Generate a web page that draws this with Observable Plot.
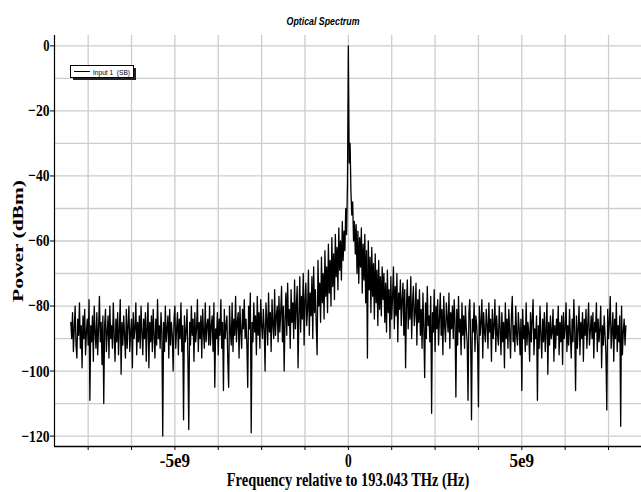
<!DOCTYPE html>
<html>
<head>
<meta charset="utf-8">
<script src="https://cdn.jsdelivr.net/npm/d3@7"></script>
<script src="https://cdn.jsdelivr.net/npm/@observablehq/plot@0.6"></script>
<style>
  body { margin: 0; background: #fff; }
  #wrap { position: relative; width: 641px; height: 492px; }
</style>
</head>
<body>
<div id="wrap"></div>
<script>
// Frequency grid of the analyser (Hz): first bin and bin spacing
const freqStartHz = -8e9;
const freqStepHz = 2.5e7;

// Power (dBm), 40 bins per 1 GHz
const powerDbm = [
  // -8.000 .. -7.025 GHz
  -85, -90, -82, -94, -87, -80, -92, -96, -84, -89,
  -79, -93, -86, -99, -83, -90, -81, -95, -88, -84,
  -92, -78, -109, -86, -91, -83, -97, -80, -88, -93,
  -82, -95, -87, -77, -91, -85, -98, -83, -110, -86,
  // -7.000 .. -6.025
  -81, -94, -88, -83, -96, -80, -90, -86, -93, -79,
  -89, -97, -84, -91, -82, -95, -87, -78, -101, -85,
  -92, -83, -89, -96, -81, -93, -86, -80, -94, -88,
  -84, -99, -82, -90, -87, -79, -95, -85, -91, -83,
  // -6.000 .. -5.025
  -93, -80, -88, -95, -84, -90, -82, -97, -86, -79,
  -99, -85, -91, -83, -94, -81, -89, -96, -84, -92,
  -78, -90, -86, -93, -82, -88, -120, -85, -94, -80,
  -91, -87, -83, -96, -81, -92, -85, -89, -100, -84,
  // -5.000 .. -4.025
  -80, -93, -87, -82, -95, -84, -90, -79, -94, -86,
  -115, -83, -91, -88, -81, -96, -118, -85, -92, -80,
  -89, -84, -97, -82, -91, -87, -78, -94, -85, -90,
  -83, -96, -81, -88, -93, -79, -91, -86, -84, -92,
  // -4.000 .. -3.025
  -80, -92, -86, -83, -94, -79, -105, -87, -90, -82,
  -95, -84, -89, -78, -93, -85, -106, -81, -90, -86,
  -83, -97, -105, -80, -88, -92, -79, -94, -84, -89,
  -77, -91, -85, -82, -96, -80, -88, -93, -81, -87,
  // -3.000 .. -2.025
  -78, -90, -84, -92, -105, -80, -87, -76, -119, -85,
  -91, -79, -88, -83, -95, -77, -89, -82, -93, -78,
  -86, -90, -81, -87, -100, -79, -84, -92, -76, -88,
  -82, -94, -78, -86, -90, -75, -89, -83, -80, -91,
  // -2.000 .. -1.025
  -77, -88, -82, -74, -91, -80, -100, -84, -76, -89,
  -73, -86, -81, -93, -75, -85, -79, -90, -72, -87,
  -80, -74, -99, -83, -71, -88, -77, -84, -70, -92,
  -78, -73, -86, -81, -69, -89, -76, -83, -71, -90,
  // -1.000 .. -0.025
  -68, -82, -75, -86, -95, -66, -80, -73, -85, -65,
  -79, -70, -84, -63, -77, -68, -82, -61, -76, -66,
  -80, -59, -74, -64, -78, -58, -71, -62, -75, -56,
  -69, -60, -72, -54, -66, -57, -63, -50, -58, -42,
  // 0.000 (carrier)
  0,
  // 0.025 .. 1.000
  -36, -30, -45, -52, -48, -60, -54, -64, -55, -70,
  -57, -73, -59, -68, -56, -76, -61, -72, -58, -79,
  -63, -96, -60, -75, -65, -82, -62, -77, -67, -84,
  -64, -79, -69, -86, -66, -81, -71, -83, -68, -78,
  // 1.025 .. 2.000
  -70, -85, -73, -88, -69, -82, -75, -90, -71, -84,
  -77, -68, -87, -74, -83, -70, -91, -76, -81, -72,
  -86, -78, -73, -89, -75, -99, -80, -72, -87, -77,
  -84, -71, -90, -79, -74, -86, -82, -73, -92, -78,
  // 2.025 .. 3.000
  -85, -75, -89, -81, -93, -76, -87, -102, -79, -90,
  -74, -86, -83, -91, -77, -113, -82, -88, -75, -94,
  -80, -87, -78, -92, -84, -76, -89, -81, -95, -77,
  -86, -91, -79, -84, -88, -76, -93, -82, -87, -80,
  // 3.025 .. 4.000
  -90, -78, -85, -108, -81, -92, -77, -88, -84, -95,
  -79, -89, -83, -93, -80, -87, -91, -109, -82, -78,
  -90, -115, -84, -88, -79, -94, -83, -86, -92, -111,
  -80, -89, -85, -78, -96, -82, -88, -91, -81, -86,
  // 4.025 .. 5.000
  -93, -79, -88, -84, -97, -81, -90, -86, -78, -94,
  -83, -89, -92, -80, -87, -95, -82, -91, -85, -99,
  -79, -90, -84, -93, -81, -88, -96, -83, -77, -91,
  -86, -94, -80, -89, -92, -82, -87, -95, -84, -106,
  // 5.025 .. 6.000
  -81, -90, -86, -94, -79, -92, -85, -88, -97, -82,
  -91, -84, -78, -95, -87, -90, -83, -109, -86, -93,
  -80, -89, -96, -84, -91, -82, -94, -87, -79, -101,
  -85, -92, -83, -90, -88, -81, -97, -86, -93, -84,
  // 6.025 .. 7.000
  -89, -80, -95, -85, -91, -83, -98, -82, -90, -87,
  -79, -94, -86, -92, -81, -89, -96, -84, -91, -78,
  -88, -106, -83, -93, -87, -80, -95, -85, -90, -82,
  -97, -84, -89, -81, -93, -86, -79, -92, -88, -83,
  // 7.025 .. 8.000
  -90, -82, -96, -85, -88, -79, -94, -84, -91, -87,
  -80, -99, -86, -92, -83, -89, -95, -112, -81, -90,
  -85, -77, -93, -88, -82, -97, -84, -90, -79, -94,
  -86, -91, -83, -117, -80, -95, -88, -84, -92, -86
];

// Axis ticks
const xGridTicks = [-7.5e9, -6.25e9, -5e9, -3.75e9, -2.5e9, -1.25e9, 0, 1.25e9, 2.5e9, 3.75e9, 5e9, 6.25e9, 7.5e9];
const xTickLabels = { "-5000000000": "-5e9", "0": "0", "5000000000": "5e9" };
const yGridTicks = [0, -10, -20, -30, -40, -50, -60, -70, -80, -90, -100, -110, -120];
const yLabelTicks = [0, -20, -40, -60, -80, -100, -120];

const titleText = "Optical Spectrum";
const xTitle = "Frequency relative to 193.043 THz (Hz)";
const yTitle = "Power (dBm)";
const legendLabel = "Input 1  (SB)";

const xDomain = [-8.47e9, 8.45e9];
const yDomain = [-123.2, 3.2];

const data = powerDbm.map((p, i) => ({ f: freqStartHz + i * freqStepHz, p }));

const chart = Plot.plot({
  width: 641,
  height: 492,
  marginLeft: 54,
  marginRight: 0,
  marginTop: 35,
  marginBottom: 46,
  style: { fontFamily: "Liberation Serif", fontSize: "17px", fontWeight: "bold", background: "transparent", color: "#000" },
  x: { domain: xDomain },
  y: { domain: yDomain },
  marks: [
    Plot.gridX(xGridTicks, { stroke: "#cdcdcd", strokeOpacity: 1, strokeWidth: 1.3 }),
    Plot.gridY(yGridTicks, { stroke: "#cdcdcd", strokeOpacity: 1, strokeWidth: 1.3 }),
    Plot.line(data, { x: "f", y: "p", stroke: "#000", strokeWidth: 1.3 }),
    Plot.ruleX([xDomain[0]], { stroke: "#000", strokeWidth: 1.2 }),
    Plot.ruleY([yDomain[0]], { stroke: "#000", strokeWidth: 1.5 }),
    Plot.axisY(yLabelTicks, { tickSize: 4, tickPadding: 1, label: null, fontSize: 17, fontWeight: "bold" }),
    Plot.axisX(xGridTicks, { tickSize: 4, tickPadding: 4, label: null, fontSize: 18, fontWeight: "bold",
      tickFormat: d => xTickLabels[String(d)] ?? "" }),
    Plot.text([xTitle], { frameAnchor: "bottom", dy: 34, lineAnchor: "middle", fontSize: 18, fontWeight: "bold" }),
    Plot.text([yTitle], { frameAnchor: "left", dx: -36, rotate: -90, textAnchor: "middle", lineAnchor: "middle", fontSize: 15, fontWeight: "bold" }),
    Plot.text([titleText], { frameAnchor: "top", dy: -14, dx: -25, lineAnchor: "middle", fontFamily: "Liberation Sans",
      fontStyle: "italic", fontWeight: "bold", fontSize: 11 })
  ]
});

const wrap = document.getElementById("wrap");
wrap.appendChild(chart);

// condense / stretch text like the original rendering
chart.querySelectorAll("text").forEach(t => {
  const s = t.textContent;
  if (!s) return;
  const w = t.getComputedTextLength();
  if (!(w > 0)) return;
  let target;
  if (s === yTitle) target = 122;
  else if (yLabelTicks.map(String).includes(s)) target = w * 0.74;
  else if (Object.values(xTickLabels).includes(s)) target = w * 0.95;
  else target = w * 0.8;
  t.setAttribute("textLength", target.toFixed(1));
  t.setAttribute("lengthAdjust", "spacingAndGlyphs");
});

// legend box (drawn in the SVG)
const svg = d3.select(chart);
const lg = svg.append("g").attr("font-family", "Liberation Sans").attr("font-weight", "normal")
  .attr("text-anchor", "start");
lg.append("rect").attr("x", 73).attr("y", 68).attr("width", 63).attr("height", 12).attr("fill", "#222");
lg.append("rect").attr("x", 70.5).attr("y", 65.5).attr("width", 63).attr("height", 12)
  .attr("fill", "#fff").attr("stroke", "#000").attr("stroke-width", 1);
lg.append("line").attr("x1", 74).attr("x2", 90).attr("y1", 71.5).attr("y2", 71.5)
  .attr("stroke", "#000").attr("stroke-width", 1);
const lt = lg.append("text").attr("x", 93).attr("y", 74.5).attr("font-size", 8).attr("fill", "#000")
  .attr("text-anchor", "start").style("white-space", "pre").text(legendLabel);
lt.attr("textLength", 37).attr("lengthAdjust", "spacingAndGlyphs");
</script>
</body>
</html>
